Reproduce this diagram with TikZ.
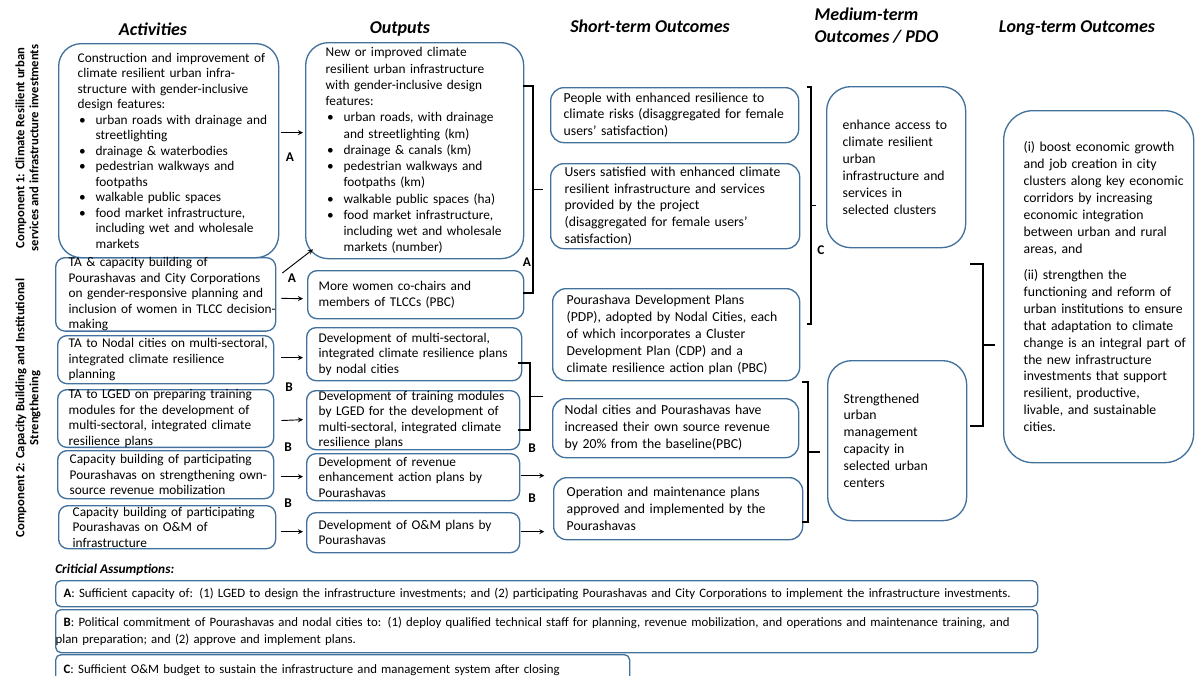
\documentclass[tikz,border=0pt]{standalone}
\usepackage{fontspec}
\setmainfont{Carlito}
\usetikzlibrary{calc}
\definecolor{boxblue}{RGB}{65,113,156}

\begin{document}
\begin{tikzpicture}[>=stealth,x=0.75pt,y=-0.75pt,
    box/.style={draw=boxblue,line width=1pt,anchor=north west,align=left,inner sep=0pt,
      rounded corners=7pt,font=\fontsize{10}{11.6}\selectfont,
      execute at begin node={\rightskip=0pt plus 1fil minus 80pt}},
    sz/.style n args={3}{inner xsep={#2*0.75pt},text width={(#1-2*#2)*0.75pt},minimum height={#3*0.75pt}},
    outc/.style={box,rounded corners=10pt,font=\fontsize{10.3}{12.7}\selectfont},
    asmbox/.style={box,rounded corners=4pt,font=\fontsize{9.6}{12.5}\selectfont},
    head/.style={font=\fontsize{13.5}{16.5}\selectfont\bfseries\itshape},
    comp/.style={rotate=90,align=center,font=\fontsize{9.5}{10.5}\selectfont\bfseries},
    lbl/.style={inner sep=0pt,font=\fontsize{10}{12}\selectfont\bfseries},
    arr/.style={->,line width=0.7pt},
    brk/.style={line width=0.9pt}]
  \def\itm{\makebox[13.5pt][l]{\hspace{1pt}\textbullet}}
  \def\ind{\hspace*{13.5pt}}
  \def\brk#1#2#3#4#5{\draw[brk] (#1,#3) -- (#2,#3) -- (#2,#4) -- (#1,#4);
    \draw[brk] (#2,{(#3+#4)/2}) -- (#5,{(#3+#4)/2});}
  \useasboundingbox (0,0) rectangle (1195,675);

  % headings
  \node[head] (hact) at (153,29) {Activities};
  \node[head] (hout) at (400,29) {Outputs};
  \node[head] (hshort) at (650,26) {Short-term Outcomes};
  \node[head,align=left,anchor=west] (hmed) at (810,26) {Medium-term\\Outcomes / PDO};
  \node[head] (hlong) at (1077,28) {Long-term Outcomes};
  \node[comp] (comp1) at (27,148) {Component 1: Climate Resilient urban\\services and infrastructure investments};
  \node[comp] (comp2) at (28,408) {Component 2: Capacity Building and Institutional\\Strengthening};

  % activities
  \node[box,rounded corners=17pt,sz={220}{19}{214}] (act1) at (58,43)
    {Construction and improvement of\\climate resilient urban infra-\\structure with gender-inclusive\\design features:\\
     \itm urban roads with drainage and\\\ind streetlighting\\\itm drainage \& waterbodies\\
     \itm pedestrian walkways and\\\ind footpaths\\\itm walkable public spaces\\
     \itm food market infrastructure,\\\ind including wet and wholesale\\\ind markets};
  \node[box,sz={220}{13}{73}] (act2) at (55,257)
    {TA \& capacity building of\\Pourashavas and City Corporations\\on gender-responsive planning and\\inclusion of women in TLCC decision-\\making};
  \node[box,sz={216}{11}{48}] (act3) at (57,335)
    {TA to Nodal cities on multi-sectoral,\\integrated climate resilience\\planning};
  \node[box,sz={216}{11}{56}] (act4) at (57,389)
    {TA to LGED on preparing training\\modules for the development of\\multi-sectoral,  integrated climate\\resilience plans};
  \node[box,sz={216}{12}{48}] (act5) at (57,450)
    {Capacity building of participating\\Pourashavas on strengthening own-\\source revenue mobilization};
  \node[box,sz={217}{14}{43}] (act6) at (58,505)
    {Capacity building of participating\\Pourashavas on O\&M of\\infrastructure};

  % outputs
  \node[box,rounded corners=17pt,sz={218}{20}{216},font=\fontsize{10}{12.2}\selectfont] (out1) at (305,42)
    {New or improved climate\\resilient urban infrastructure\\with gender-inclusive design\\features:\\
     \itm urban roads, with drainage\\\ind and streetlighting (km)\\\itm drainage \& canals (km)\\
     \itm pedestrian walkways and\\\ind footpaths (km)\\\itm walkable public spaces (ha)\\
     \itm food market infrastructure,\\\ind including wet and wholesale\\\ind markets (number)};
  \node[box,sz={216}{11}{48}] (out2) at (307,270)
    {More women co-chairs and\\members of TLCCs (PBC)};
  \node[box,sz={215}{12}{53}] (out3) at (306,327)
    {Development of multi-sectoral,\\integrated climate resilience plans\\by nodal cities};
  \node[box,sz={213}{12}{59}] (out4) at (306,390)
    {Development of training modules\\by LGED for the development of\\multi-sectoral, integrated climate\\resilience plans};
  \node[box,sz={213}{12}{47}] (out5) at (306,453)
    {Development of revenue\\enhancement action plans by\\Pourashavas};
  \node[box,sz={213}{12}{40}] (out6) at (306,512)
    {Development of O\&M plans by\\Pourashavas};

  % short-term outcomes
  \node[outc,sz={248}{13}{55}] (st1) at (550,87)
    {People with enhanced resilience to\\climate risks (disaggregated  for female\\users’ satisfaction)};
  \node[outc,sz={249}{14}{85}] (st2) at (550,163)
    {Users satisfied with enhanced climate\\resilient infrastructure and services\\provided by the project\\(disaggregated  for female users’\\satisfaction)};
  \node[outc,sz={247}{14}{92}] (st3) at (552,288)
    {Pourashava Development Plans\\(PDP), adopted by Nodal Cities, each\\of which incorporates a Cluster\\Development Plan (CDP) and a\\climate resilience action plan (PBC)};
  \node[outc,sz={246}{12}{59}] (st4) at (552,398)
    {Nodal cities and Pourashavas have\\increased their own source revenue\\by 20\% from the baseline(PBC)};
  \node[outc,sz={249}{13}{62}] (st5) at (553,477)
    {Operation and maintenance plans\\approved and implemented  by the\\Pourashavas};

  % medium and long term
  \node[outc,rounded corners=18pt,sz={139}{16}{161}] (med1) at (826,86)
    {enhance access to\\climate resilient\\urban\\infrastructure and\\services in\\selected clusters};
  \node[outc,rounded corners=18pt,sz={139}{16}{160}] (med2) at (827,360)
    {Strengthened\\urban\\management\\capacity in\\selected urban\\centers};
  \node[outc,rounded corners=22pt,sz={190}{20}{352}] (lng) at (1003,110)
    {(i) boost economic growth\\and job creation in city\\clusters along key economic\\corridors by increasing\\economic integration\\between urban and rural\\areas, and\\[7pt]
     (ii) strengthen the\\functioning and reform of\\urban institutions to ensure\\that adaptation to climate\\change is an integral part of\\the new infrastructure\\investments that support\\resilient, productive,\\livable, and sustainable\\cities.};

  % connectors
  \draw[arr] ($(act1.east)+(2,-18)$) -- ($(out1.west)+(-2,-18)$);
  \draw[arr] ($(act2.north east)+(6,16)$) -- ($(out1.south west)+(8,-10)$);
  \draw[arr] ($(act2.east)+(5,4)$) -- ($(out2.west)+(-4,4)$);
  \draw[arr] ($(act3.east)+(7,-2)$) -- ($(out3.west)+(-3,3.5)$);
  \draw[arr] ($(act4.east)+(7,2)$) -- ($(out4.west)+(-3,-0.5)$);
  \draw[arr] ($(act5.east)+(7,2)$) -- ($(out5.west)+(-3,-0.5)$);
  \draw[arr] ($(act6.east)+(5,4.5)$) -- ($(out6.west)+(-3,-1)$);
  \draw[arr] ($(out5.east)+(1,-1.5)$) -- ++(23,0);
  \draw[arr] ($(out6.east)+(1,-1)$) -- ++(23,0);

  % brackets
  \brk{523}{533}{86}{293}{543}
  \brk{518}{530}{363}{430}{543}
  \brk{807}{811}{87}{324}{816}
  \brk{802}{808}{382}{522}{820}
  \brk{970}{983}{264}{426}{995}

  \node[lbl] (la1) at (290,157) {A};
  \node[lbl] (la2) at (292,278) {A};
  \node[lbl] (lb1) at (289,387) {B};
  \node[lbl] (lb2) at (288,447) {B};
  \node[lbl] (lb3) at (288,503) {B};
  \node[lbl] (la3) at (527,262) {A};
  \node[lbl] (lb4) at (532,448) {B};
  \node[lbl] (lb5) at (532,498) {B};
  \node[lbl] (lc1) at (821,250) {C};

  % assumptions
  \node[anchor=west,inner sep=0pt,font=\fontsize{10}{11}\selectfont\bfseries\itshape] (crit) at (55,570) {Criticial Assumptions:};
  \node[asmbox,sz={982}{8}{26}] (asmA) at (55,580)
    {\textbf{A}: Sufficient capacity of: (1) LGED to design  the infrastructure investments;  and (2)  participating  Pourashavas and  City Corporations to implement  the infrastructure  investments.};
  \node[asmbox,sz={982}{8}{43}] (asmB) at (55,609)
    {\textbf{B}: Political commitment of Pourashavas and nodal cities to: (1) deploy qualified technical staff for planning,  revenue  mobilization,  and operations and maintenance training,  and\\\hspace*{-6pt}plan preparation;  and (2) approve and implement  plans.};
  \node[asmbox,sz={574}{8}{30}] (asmC) at (55,654)
    {\textbf{C}: Sufficient O\&M budget  to sustain the infrastructure and management  system after closing\\[3pt]};
\end{tikzpicture}
\end{document}
